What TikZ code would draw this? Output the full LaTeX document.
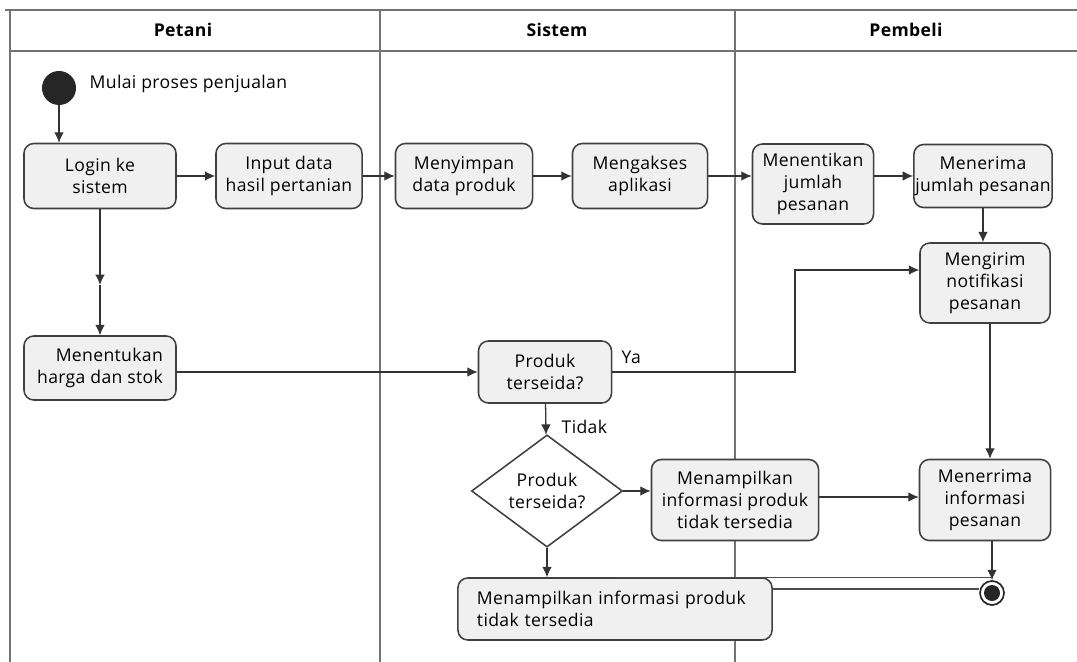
\documentclass[tikz,border=0pt]{standalone}
\usepackage{fontspec}
\setmainfont{Open Sans}[LetterSpace=2]
\usepackage{tikz}
\usetikzlibrary{positioning,arrows,shapes,shapes.geometric,calc,arrows.meta}
\tikzset{
>={Latex[width=2.4mm,length=2.6mm]},
lane/.style={draw=black!55, line width=0.9pt},
activity/.style={rectangle, rounded corners=7pt, draw=black!75, line width=1.1pt,
                 fill=black!6, align=center, inner sep=2pt, font=\fontsize{12.5}{15.5}\selectfont},
decision/.style={diamond, draw=black!75, line width=1.1pt, fill=white, inner sep=0pt,
                 align=center, font=\fontsize{12.5}{15.5}\selectfont},
startnode/.style={circle, fill=black!85, minimum size=0.85cm, inner sep=0pt},
endnode/.style={circle, draw=black!85, line width=1.2pt, fill=white, minimum size=0.6cm, inner sep=0pt,
                path picture={\fill[black!85] (path picture bounding box.center) circle (0.2cm);}},
flow/.style={->, draw=black!80, line width=0.9pt},
wire/.style={draw=black!70, line width=1pt},
lbl/.style={font=\fontsize{12.5}{15.5}\selectfont, inner sep=1pt},
headlbl/.style={font=\fontsize{12.5}{15.5}\selectfont\bfseries},
}
\begin{document}
\begin{tikzpicture}[x=0.025cm, y=-0.025cm]

    \useasboundingbox (0,0) rectangle (1077,662);

    \draw[lane] (5,10) -- (1077,10);
    \draw[lane] (10,51) -- (1077,51);
    \draw[lane] (10,10) -- (10,662);
    \draw[lane] (380,10) -- (380,662);
    \draw[lane] (735,10) -- (735,662);

    \node[headlbl] (hpetani) at(183,30) {Petani};
    \node[headlbl] (hsistem) at(557,30) {Sistem};
    \node[headlbl] (hpembeli) at(906,30) {Pembeli};

    \node[startnode] (start) at(59,88) {};
    \node[lbl, anchor=west] (startlbl) at(88,84) {Mulai proses penjualan};

    \node[activity, minimum width=3.8cm, minimum height=1.625cm] (login) at(100,176) {Login ke\\sistem};
    \node[activity, minimum width=3.65cm, minimum height=1.625cm] (input) at(289,176) {Input data\\hasil pertanian};
    \node[activity, minimum width=3.425cm, minimum height=1.625cm] (simpan) at(464,176) {Menyimpan\\data produk};
    \node[activity, minimum width=3.375cm, minimum height=1.625cm] (akses) at(640,176) {Mengakses\\aplikasi};
    \node[activity, minimum width=3.025cm, minimum height=2cm, inner xsep=1pt] (tentikan) at(813,184) {Menentikan\\jumlah\\pesanan};
    \node[activity, minimum width=3.225cm, minimum height=1.575cm, inner xsep=1pt] (terima) at(983,176) {Menerima\\jumlah pesanan};
    \node[activity, minimum width=3.25cm, minimum height=2cm] (kirim) at(985,283) {Mengirim\\notifikasi\\pesanan};

    \node[activity, minimum width=3.8cm, minimum height=1.6cm, align=right] (harga) at(100,368) {Menentukan\\harga dan stok};
    \node[activity, minimum width=3.325cm, minimum height=1.55cm] (produk) at(545,372) {Produk\\terseida?};
    \node[decision, minimum width=3.775cm, minimum height=2.175cm] (cek) at(547,491) {Produk\\terseida?};
    \node[activity, minimum width=4.175cm, minimum height=2.025cm] (tampil) at(735,500) {Menampilkan\\informasi produk\\tidak tersedia};
    \node[activity, minimum width=3.275cm, minimum height=2.025cm] (infopesan) at(985,500) {Menerrima\\informasi\\pesanan};

    \node[activity, minimum width=7.85cm, minimum height=1.55cm, text width=6.9cm, align=left, inner xsep=0.475cm] (tampilbawah) at(615,609) {Menampilkan informasi produk\\tidak tersedia};
    \node[endnode] (end) at(992,593) {};

    \coordinate (loginmid) at(100,285);
    \coordinate (yabend) at(795,270);

    \draw[flow] (start) -- (start |- login.north);
    \draw[flow] (login) -- (input);
    \draw[flow] (input) -- (simpan);
    \draw[flow] (simpan) -- (akses);
    \draw[flow] (akses) -- (akses -| tentikan.west);
    \draw[flow] (tentikan.east |- terima) -- (terima);
    \draw[flow] (terima) -- (terima |- kirim.north);

    \draw[flow] (login) -- (loginmid);
    \draw[flow] (loginmid) -- (harga);
    \draw[flow] (harga.east |- produk) -- (produk);

    \draw[flow] (produk.east) -| (yabend) -- (yabend -| kirim.west);
    \node[lbl, anchor=west] (ya) at(620,357) {Ya};

    \draw[flow] (produk) -- (cek);
    \node[lbl, anchor=west] (tidak) at(560,427) {Tidak};

    \draw[flow] (cek) -- (tampil.west |- cek);
    \draw[flow] (tampil.east |- 0,497) -- (infopesan.west |- 0,497);
    \draw[flow] (kirim.south -| 990,0) -- (infopesan.north -| 990,0);
    \draw[flow] (infopesan.south -| end) -- (end);
    \draw[flow] (cek) -- (cek |- tampilbawah.north);

    \draw[wire] (tampilbawah.north) -- (tampilbawah.north -| end);
    \draw[wire] (tampilbawah.east |- 0,589) -- (end.west |- 0,589);

\end{tikzpicture}
\end{document}
